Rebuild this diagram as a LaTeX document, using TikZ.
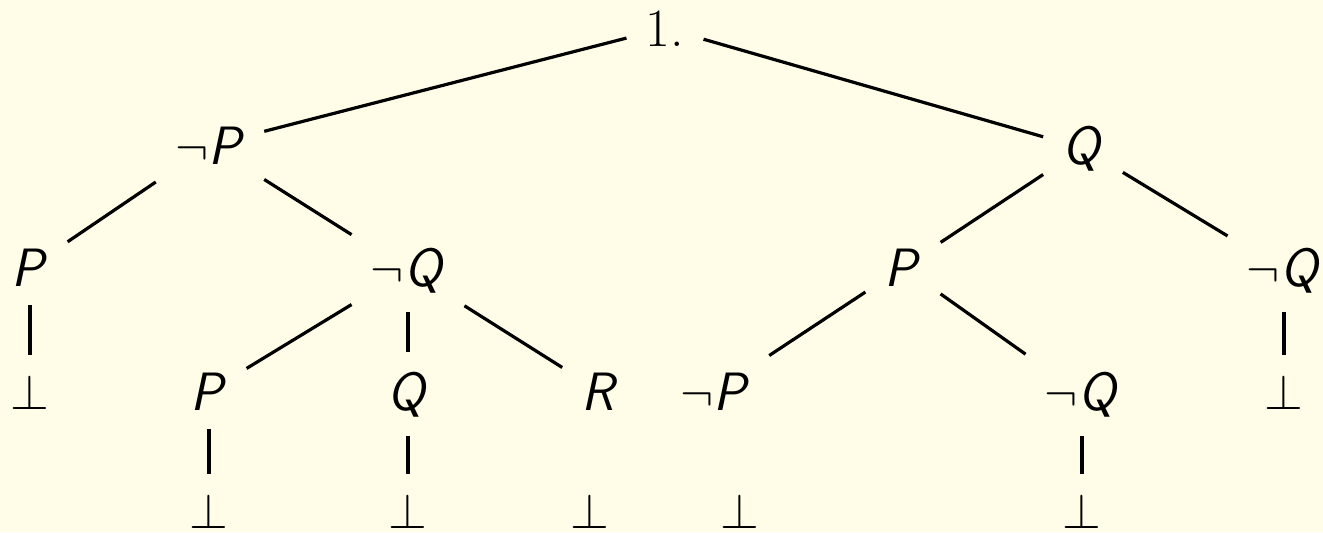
\documentclass[tikz,border=0pt]{standalone}
\usepackage{xcolor}
\definecolor{bgcream}{RGB}{255,253,232}
\newcommand\sv[1]{\textsf{\itshape #1}}
\begin{document}
\begin{tikzpicture}[x=0.5pt,y=-0.5pt,
  tn/.style={anchor=base,inner sep=9.5pt,font=\fontsize{27}{31}\selectfont},
  br/.style={line width=1.6pt}]
\fill[bgcream] (0,0) rectangle (1323,532);
\useasboundingbox (0,0) rectangle (1323,532);
% nodes
\node[tn] (r) at (665,46) {\textrm{1.}};
\node[tn] (a) at (210,164) {$\neg$\sv{P}};
\node[tn] (b) at (1083,164) {\sv{Q}};
\node[tn] (a1) at (30,286) {\sv{P}};
\node[tn] (a2) at (408,286) {$\neg$\sv{Q}};
\node[tn] (b1) at (903,286) {\sv{P}};
\node[tn] (b2) at (1284,286) {$\neg$\sv{Q}};
\node[tn] (a1x) at (30,409) {$\bot$};
\node[tn] (a21) at (209,410) {\sv{P}};
\node[tn] (a22) at (408,410) {\sv{Q}};
\node[tn] (a23) at (600,410) {\sv{R}};
\node[tn] (b11) at (715,410) {$\neg$\sv{P}};
\node[tn] (b12) at (1082,410) {$\neg$\sv{Q}};
\node[tn] (b2x) at (1284,409) {$\bot$};
\node[tn] (a21x) at (209,528) {$\bot$};
\node[tn] (a22x) at (408,528) {$\bot$};
\node[tn] (a23x) at (590,528) {$\bot$};
\node[tn] (b11x) at (740,528) {$\bot$};
\node[tn] (b12x) at (1082,528) {$\bot$};
% edges
\draw[br] (r) -- (a);
\draw[br] (r) -- (b);
\draw[br] (a) -- (a1);
\draw[br] (a) -- (a2);
\draw[br] (a1) -- (a1x);
\draw[br] (a2) -- (a21);
\draw[br] (a2) -- (a22);
\draw[br] (a2) -- (a23);
\draw[br] (a21) -- (a21x);
\draw[br] (a22) -- (a22x);
\draw[br] (b) -- (b1);
\draw[br] (b) -- (b2);
\draw[br] (b1) -- (b11);
\draw[br] (b1) -- (b12);
\draw[br] (b12) -- (b12x);
\draw[br] (b2) -- (b2x);
\end{tikzpicture}
\end{document}
